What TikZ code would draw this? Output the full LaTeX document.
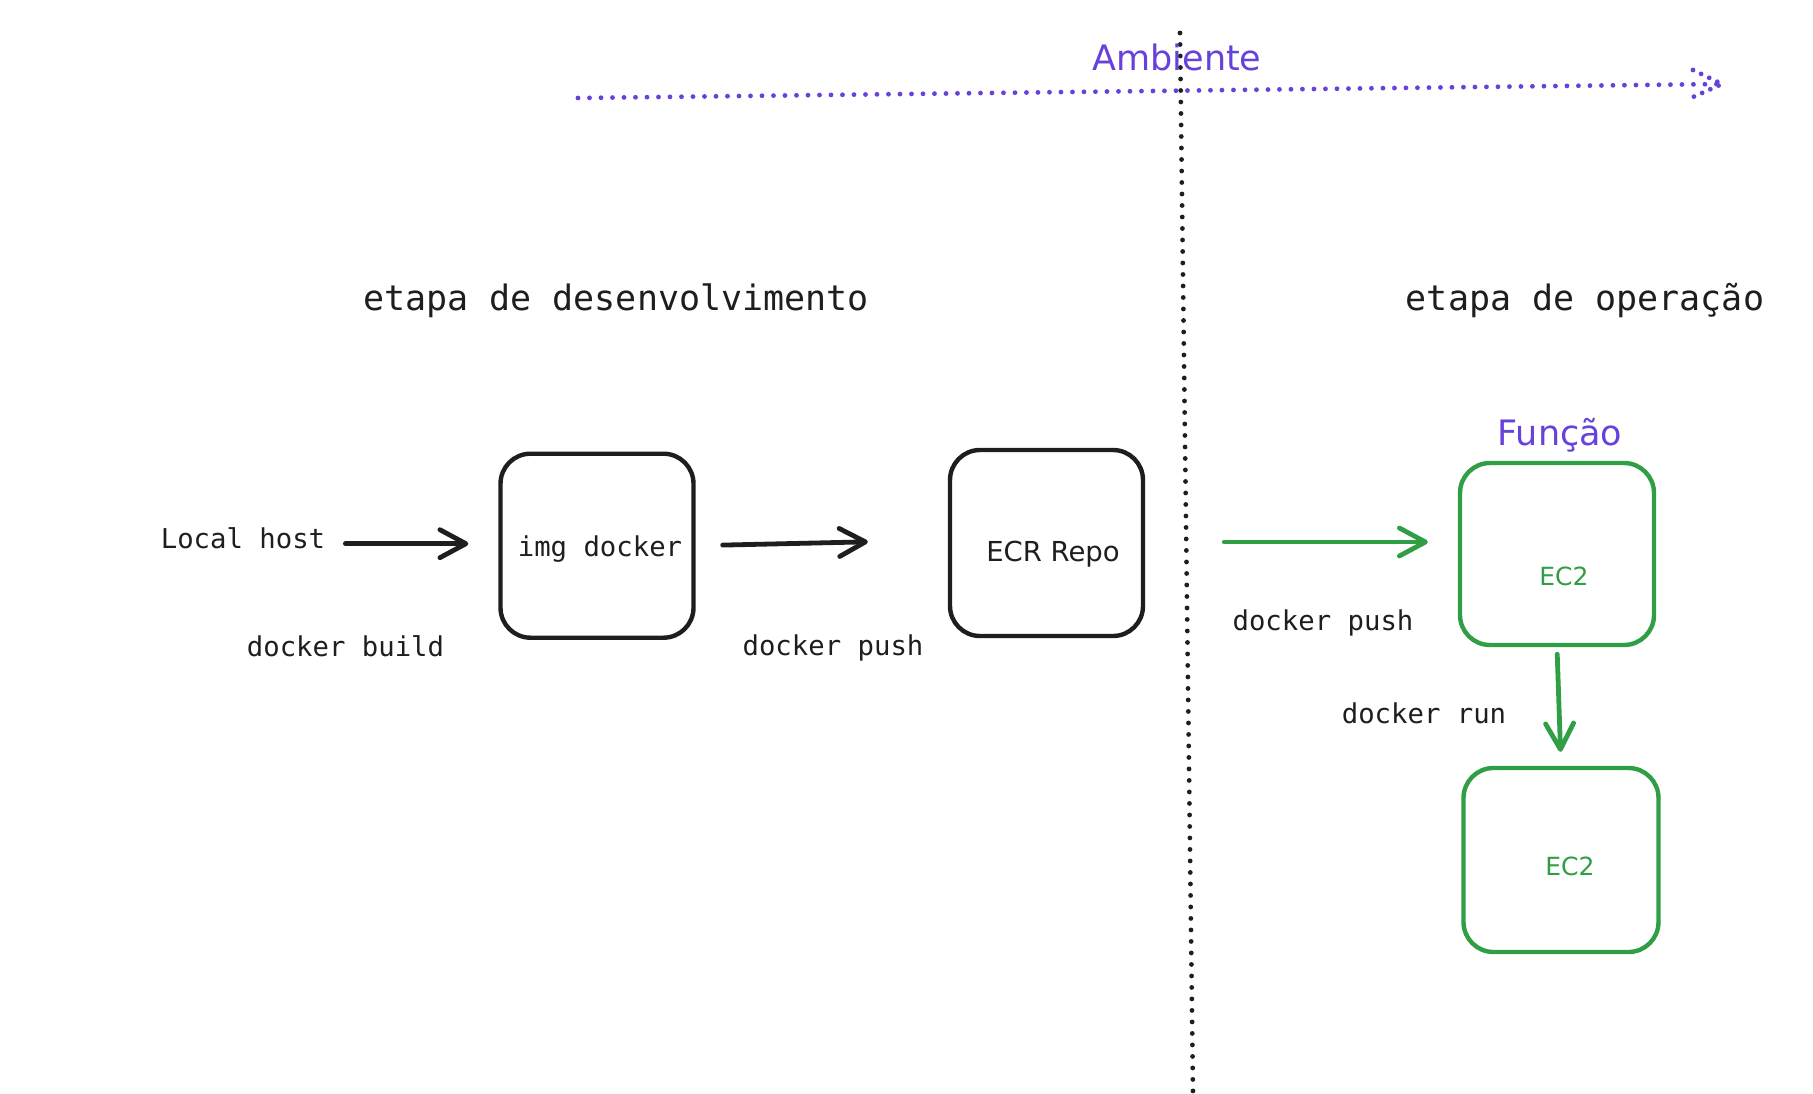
\documentclass[tikz,border=0pt]{standalone}
\usepackage{fontspec}
\setmainfont{DejaVu Sans}
\setsansfont{DejaVu Sans}
\setmonofont{DejaVu Sans Mono}
\usetikzlibrary{arrows.meta,calc}
\definecolor{ink}{HTML}{1E1E1E}
\definecolor{exvio}{HTML}{6741D9}
\definecolor{exgreen}{HTML}{2F9E44}
\begin{document}
\begin{tikzpicture}[x=1pt,y=-1pt,
  box/.style={draw=ink, line width=4.4pt, rounded corners=30pt, inner sep=0pt},
  gbox/.style={box, draw=exgreen},
  mono/.style={font=\fontsize{27.3}{32}\selectfont\ttfamily, text=ink, anchor=base, inner sep=0pt},
  headtxt/.style={font=\fontsize{35}{40}\selectfont\ttfamily, text=ink, anchor=base, inner sep=0pt},
  sanstxt/.style={font=\fontsize{27.5}{30}\selectfont\sffamily, text=ink, anchor=base, inner sep=0pt},
  ectxt/.style={font=\fontsize{25}{28}\selectfont\sffamily, text=exgreen, anchor=base, inner sep=0pt},
  viotxt/.style={font=\fontsize{35}{40}\selectfont\sffamily, text=exvio, anchor=base, inner sep=0pt},
  arr/.style={draw=ink, line width=4.8pt, line cap=round, line join=round,
    -{Straight Barb[length=26pt,width=28pt,line cap=round,line join=round]}},
  garr/.style={arr, draw=exgreen},
  dotline/.style={line width=4.8pt, line cap=round, dash pattern=on 0pt off 11.5pt},
]
\useasboundingbox (0,0) rectangle (1813,1093);

% axis "Ambiente"
\coordinate (ambS) at (578,98);
\coordinate (ambE) at (1722,84);
\draw[dotline, exvio] (ambS) -- (ambE);
\draw[dotline, exvio, dash pattern=on 0pt off 9pt] ($(ambE)+(-29,-14)$) -- (ambE) -- ($(ambE)+(-29,13)$);

% vertical divider
\coordinate (vtop) at (1180,33);
\coordinate (vbot) at (1193,1093);
\draw[dotline, ink] (vtop) -- (vbot);

\node[viotxt] (ambiente) at (1177,70) {Ambiente};

% headings
\node[headtxt] (dev) at (616,310) {etapa de desenvolvimento};
\node[headtxt] (ops) at (1585,310) {etapa de operação};

% boxes
\node[box, minimum width=193pt, minimum height=184pt] (imgbox) at (597,545.7) {};
\node[box, minimum width=193pt, minimum height=186pt] (ecr) at (1046.5,543) {};
\node[gbox, minimum width=194pt, minimum height=182pt] (ec2a) at (1557,554) {};
\node[gbox, minimum width=195pt, minimum height=184pt] (ec2b) at (1561,860) {};

% box labels
\node[mono] (imgtxt) at (600,556) {img docker};
\node[sanstxt] (ecrtxt) at (1053,561) {ECR Repo};
\node[ectxt] (ec2atxt) at (1564,585) {EC2};
\node[ectxt] (ec2btxt) at (1570,875) {EC2};
\node[viotxt] (funcao) at (1560,445) {Função};

% free labels
\node[mono] (localhost) at (243,548) {Local host};
\node[mono] (build) at (345.5,656) {docker build};
\node[mono] (push1) at (833,655) {docker push};
\node[mono] (push2) at (1323,630) {docker push};
\node[mono] (run) at (1424,723) {docker run};

% connectors
\draw[arr, shorten <=20pt, shorten >=30pt]
  ([yshift=2pt]imgbox.west -| localhost.east) -- ([yshift=2pt]imgbox.west);
\draw[arr, shorten <=27pt, shorten >=80pt]
  ([yshift=0pt]imgbox.east) -- ([yshift=3pt]ecr.west);
\draw[garr, shorten <=79pt, shorten >=30pt]
  ([yshift=1pt]ecr.east) -- ([yshift=1pt]ecr.east -| ec2a.west);
\draw[garr, shorten <=7pt, shorten >=14pt]
  (ec2a.south) -- (ec2b.north);
\end{tikzpicture}
\end{document}
